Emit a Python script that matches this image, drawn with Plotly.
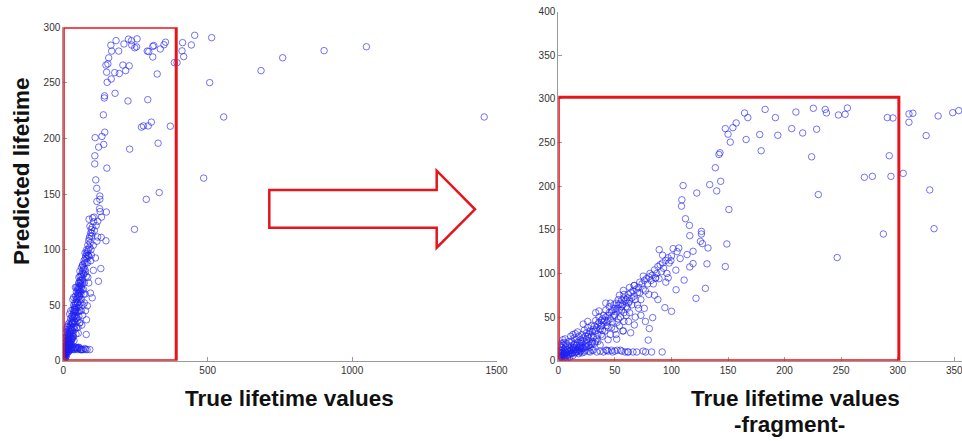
import plotly.graph_objects as go

# ---------------- data ----------------
# dense cloud, true lifetime 0..105
dense_true = [
    0.5, 1, 1.5, 2, 2, 2.5, 3, 3, 3.5, 4,
    4, 4.5, 5, 5, 5.5, 6, 6, 6.5, 7, 7,
    7.5, 8, 8, 8.5, 9, 9, 9.5, 10, 10, 1,
    2, 3, 1, 0.5, 4, 6, 1.5, 2, 3, 5,
    11, 11, 12, 12, 13, 13, 14, 14, 15, 15,
    16, 16, 17, 17, 18, 18, 19, 19, 20, 20,
    11, 13, 15, 17, 20, 12, 16, 18, 19, 14,
    21, 21, 22, 22, 23, 23, 24, 24, 25, 25,
    26, 26, 27, 27, 28, 28, 29, 29, 30, 30,
    22, 26, 24, 28, 30, 23, 27, 25, 29, 21,
    31, 31, 32, 32, 33, 33, 34, 34, 35, 35,
    36, 36, 37, 37, 38, 38, 39, 39, 40, 40,
    33, 36, 31, 37, 40, 34, 42, 44, 38, 35,
    41, 41, 42, 42, 43, 43, 44, 44, 45, 45,
    46, 46, 47, 47, 48, 48, 49, 49, 50, 50,
    42, 47, 44, 51.6, 57.5, 48, 50, 46, 43, 39,
    51, 51, 52, 52, 53, 53, 54, 55, 55, 56,
    56, 57, 57, 58, 58, 59, 60, 60, 52, 57.5,
    54, 56, 59, 61.3, 55, 53, 58, 60, 54, 51,
    61, 61, 62, 63, 63, 64, 65, 65, 66, 67,
    67, 68, 69, 70, 70, 62, 66, 69.3, 67.2, 64,
    71, 72, 72, 73, 74, 75, 75.1, 76, 77, 78,
    79, 80, 80, 76, 73, 77.2, 75, 79.5, 80.4, 77,
    81, 82, 83, 84, 85, 86, 87, 88, 89, 90,
    91, 92, 93, 95, 96, 97, 98, 100, 83.4, 94.2,
    100.1, 91.8, 82.5, 86, 89.2, 92.2, 97.1, 99.5, 101.5, 103.9,
    104.1, 67.2, 63, 58, 71, 85, 88, 95, 68, 62,
    3, 5, 7, 9, 11, 13, 15, 17, 19, 21,
    6, 9, 12, 15, 18, 21, 24, 27, 30, 33,
    8, 14, 20, 26, 32, 38, 44, 50, 56, 62,
]
dense_pred = [
    1, 3, 6, 2, 9, 12, 4, 15, 7, 1,
    10, 18, 5, 13, 8, 2, 11, 16, 6, 20,
    9, 3, 13, 17, 7, 11, 22, 4, 14, 12,
    16, 20, 7, 10, 24, 25, 18, 5, 9, 21,
    9, 17, 12, 22, 6, 15, 19, 26, 10, 13,
    18, 24, 11, 21, 15, 28, 20, 12, 24, 17,
    28, 30, 31, 33, 11, 9, 10, 8, 10, 12,
    20, 30, 26, 14, 22, 35, 28, 18, 32, 24,
    20, 38, 30, 26, 34, 15, 28, 40, 33, 22,
    42, 45, 12, 10, 12, 10, 11, 16, 19, 9,
    36, 27, 40, 20, 34, 46, 38, 25, 42, 30,
    44, 50, 36, 18, 46, 40, 48, 28, 44, 52,
    55, 57, 12, 11, 10, 10, 12, 11, 30, 22,
    46, 34, 50, 58, 44, 12, 52, 38, 55, 62,
    48, 30, 56, 12, 58, 44, 52, 64, 60, 36,
    66, 38, 24, 24.7, 34.2, 10, 11, 66, 40, 35,
    56, 66, 60, 44, 64, 70, 58, 66, 50, 70,
    62, 64, 34, 72, 55, 68, 70, 62, 12, 80.6,
    75, 11, 10, 10, 12, 48, 45, 52, 40, 30,
    72, 60, 76, 68, 55, 78, 72, 64, 80, 74,
    86, 70, 82, 78, 64, 10, 10, 10, 41, 32,
    84, 78, 90, 70, 88, 82, 96.9, 92, 80, 94,
    88, 96, 76, 60, 52, 10, 11, 23.6, 36.8, 45,
    100, 92, 98, 88, 104, 95, 100, 108, 94, 110,
    102, 112, 106, 115, 100, 118, 112, 120, 49.4, 60.8,
    56.6, 10, 10, 94.6, 127.3, 120.9, 95, 114.8, 128.5, 103.8,
    81.3, 86.3, 84, 76, 60, 75, 70, 90, 50, 45,
    5, 7, 9, 8, 12, 14, 15, 13, 16, 15,
    4, 6, 8, 9, 12, 14, 16, 18, 20, 22,
    12, 18, 22, 28, 34, 40, 46, 52, 58, 66,
]

# rising part, true lifetime 105..170
mid_true = [
    106.5, 113.8, 119.1, 132.3, 107.7, 119.1, 131.4, 147.6, 116.2, 111.2,
    130, 121.7, 116.2, 126.5, 125.6, 127.4, 149, 110.3, 133.8, 143.5,
    122.4, 140, 109.2, 108.9, 150.8, 112.4, 115.9, 126.5, 138.8, 142.9,
    142, 152, 147.6, 150, 154.3, 157.2, 164.6, 167.5, 166, 105,
]
mid_pred = [
    129.2, 121.6, 125.4, 129.2, 117.1, 111.3, 111, 107.9, 107.5, 92.4,
    82.9, 71.5, 143.3, 145.2, 136.8, 134.2, 133.8, 200.7, 201.8, 205.6,
    192.2, 194.6, 184.4, 177.1, 173.3, 162.7, 155.1, 148.2, 221.2, 238.3,
    236.4, 250.5, 266, 259.6, 267.1, 272.5, 283.9, 278.6, 253.5, 125,
]

# saturated part, true lifetime 170..355
top_true = [
    182.8, 191.9, 210, 225.4, 235.9, 237, 247.6, 253.5, 255.5, 290.8,
    295.8, 309.9, 313.4, 309.9, 335.7, 348.6, 353.9, 178, 194, 206.3,
    216, 228.3, 179.3, 223.9, 292.5, 325.1, 270.5, 277.6, 294, 304.8,
    328.3, 229.8, 332.1, 287.3, 246.5,
]
top_pred = [
    288, 278.6, 285, 289.3, 288, 284, 281.6, 282.4, 289.6, 278.6,
    278.2, 282.8, 283.6, 273.3, 280.5, 284.3, 286.6, 259.2, 258.4, 266,
    261, 265.3, 240.6, 233.7, 234.9, 258, 210.2, 211.3, 211.3, 214.7,
    195.7, 190.4, 151.3, 145.2, 118.2,
]

# far outliers, true lifetime > 355
far_true = [413, 455, 513.7, 443.4, 411, 416.8, 384.5, 393.8, 506.9, 555.4,
            684.7, 759.7, 903, 1049.6, 1457.4, 486, 370.6]
far_pred = [286.2, 292.8, 290.7, 284.1, 278.8, 273.6, 268.2, 268.2, 250.2, 219.3,
            261, 272.6, 279, 282.5, 219.3, 164.3, 211]

true_values = dense_true + mid_true + top_true + far_true
predicted = dense_pred + mid_pred + top_pred + far_pred

left_xticks = [0, 500, 1000, 1500]
left_yticks = [0, 50, 100, 150, 200, 250, 300]
right_xticks = [0, 50, 100, 150, 200, 250, 300, 350]
right_yticks = [0, 50, 100, 150, 200, 250, 300, 350, 400]

# zoom windows (data units)
left_window = (0, 391, 0, 300)
right_window = (0, 301, 0, 302)

# ---------------- figure ----------------
W, H = 962, 441
FONT = "Liberation Sans, Arial, sans-serif"
marker = dict(symbol="circle-open", size=6.5, color="rgba(30,30,240,0.62)",
              line=dict(width=1))

fig = go.Figure()
fig.add_trace(go.Scatter(x=true_values, y=predicted, mode="markers",
                         marker=marker, xaxis="x", yaxis="y", showlegend=False))
fig.add_trace(go.Scatter(x=true_values, y=predicted, mode="markers",
                         marker=marker, xaxis="x2", yaxis="y2", showlegend=False))

def px_x(p):
    return min(1.0, p / W)

def px_y(p):
    return 1 - p / H

axis_common = dict(showline=True, linecolor="#9a9a9a", linewidth=1,
                   ticks="inside", ticklen=4, tickcolor="#9a9a9a",
                   showgrid=False, zeroline=False, automargin=False,
                   ticklabeloverflow="allow",
                   tickfont=dict(family=FONT, size=10, color="#333"))

fig.update_layout(
    width=W, height=H,
    margin=dict(l=0, r=0, t=0, b=0),
    paper_bgcolor="white", plot_bgcolor="white",
    xaxis=dict(domain=[px_x(63.3), px_x(496.5)], range=[0, 1500],
               tickvals=left_xticks, anchor="y", **axis_common),
    yaxis=dict(domain=[px_y(360.7), px_y(27.3)], range=[0, 300],
               tickvals=left_yticks, anchor="x", **axis_common),
    xaxis2=dict(domain=[px_x(558.3), 1.0], range=[0, 356.8],
                tickvals=right_xticks, anchor="y2", **axis_common),
    yaxis2=dict(domain=[px_y(360.7), px_y(11.7)], range=[0, 400],
                tickvals=right_yticks, anchor="x2", **axis_common),
)

red = "#e8141c"
fig.add_shape(type="rect", xref="x", yref="y",
              x0=left_window[0], x1=left_window[1], y0=left_window[2], y1=left_window[3],
              line=dict(color=red, width=3))
fig.add_shape(type="rect", xref="x2", yref="y2",
              x0=right_window[0], x1=right_window[1], y0=right_window[2], y1=right_window[3],
              line=dict(color=red, width=3))

# block arrow between panels
arrow_px = [(269.3, 190), (436.7, 190), (436.7, 170.7), (475, 209.3),
            (436.7, 247.7), (436.7, 227.7), (269.3, 227.7)]
path = "M " + " L ".join(f"{px_x(a):.5f},{px_y(b):.5f}" for a, b in arrow_px) + " Z"
fig.add_shape(type="path", xref="paper", yref="paper", path=path,
              line=dict(color=red, width=2.5), fillcolor="rgba(0,0,0,0)")

title_font = dict(family=FONT, size=22.5, color="#111")
fig.add_annotation(text="<b>Predicted lifetime</b>", xref="paper", yref="paper",
                   x=px_x(21), y=px_y(171), textangle=-90, showarrow=False,
                   font=title_font, xanchor="center", yanchor="middle")
fig.add_annotation(text="<b>True lifetime values</b>", xref="paper", yref="paper",
                   x=px_x(289), y=px_y(398), showarrow=False,
                   font=title_font, xanchor="center", yanchor="middle")
fig.add_annotation(text="<b>True lifetime values</b>", xref="paper", yref="paper",
                   x=px_x(795), y=px_y(398), showarrow=False,
                   font=title_font, xanchor="center", yanchor="middle")
fig.add_annotation(text="<b>-fragment-</b>", xref="paper", yref="paper",
                   x=px_x(789), y=px_y(424), showarrow=False,
                   font=title_font, xanchor="center", yanchor="middle")

# remove the page's default 8px body margin so the figure fills the window
fig.write_html("out.html",
               config={"displayModeBar": False},
               post_script="document.body.style.margin='0';"
                           "document.body.style.overflow='hidden';")
